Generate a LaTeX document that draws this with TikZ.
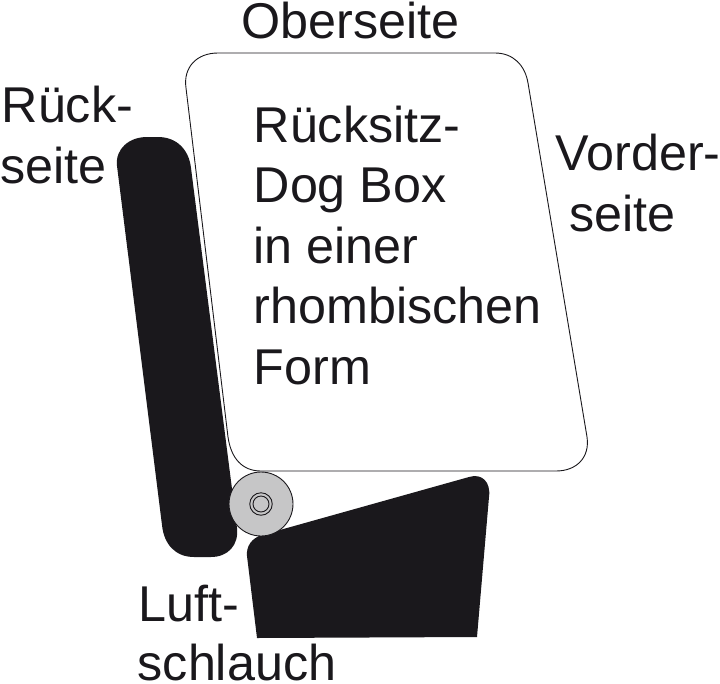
\documentclass[tikz,border=0pt]{standalone}
\usepackage{fontspec}
\setmainfont{Liberation Sans}
\definecolor{inkBlack}{HTML}{1A181C}
\definecolor{rollGray}{HTML}{C6C6C7}
\begin{document}
\begin{tikzpicture}
[x=1pt,y=-1pt,%
  partDecorate/.style={fill=inkBlack,draw=none},%
  boxDecorate/.style={draw=inkBlack,line width=0.9pt},%
  rollDecorate/.style={draw=inkBlack,line width=0.9pt},%
  labelDecorate/.style={anchor=base west,inner sep=0pt,text=inkBlack,font=\fontsize{50.3}{60}\selectfont}]
\useasboundingbox (0,0) rectangle (720,683);
%% backrest, seat
\path[partDecorate] (147,137) -- (158,137)
  .. controls (177,137) and (189,150) .. (191,168)
  -- (237,528) .. controls (239,545) and (228,557) .. (211,557)
  -- (194,557) .. controls (176,557) and (164,545) .. (162,525)
  -- (117,166) .. controls (115,149) and (129,137) .. (147,137) -- cycle;
\path[partDecorate] (262,535) -- (469,477)
  .. controls (482,473) and (491,482) .. (489,497)
  -- (477,637) -- (257,638) -- (247,556)
  .. controls (246,546) and (252,538) .. (262,535) -- cycle;
%% dog box
\draw[boxDecorate] (218,53) -- (495,53)
  .. controls (513,53) and (525,65) .. (528,83)
  -- (587,437) .. controls (590,457) and (577,471) .. (556,471)
  -- (261,471) .. controls (242,471) and (231,458) .. (228,437)
  -- (186,88) .. controls (183,67) and (197,53) .. (218,53) -- cycle;
%% air hose
\node (hose) at (261,504) [rollDecorate,shape=circle,fill=rollGray,minimum size=64pt,inner sep=0pt] {};
\node (hoseOuter) at (hose.center) [rollDecorate,shape=circle,minimum size=22.5pt,inner sep=0pt] {};
\node (hoseInner) at (hose.center) [rollDecorate,shape=circle,minimum size=16pt,inner sep=0pt] {};
%% labels
\foreach \nodename/\x/\y/\caption in {
  top/241/38/Oberseite, backA/1.5/122/Rück-, backB/0.5/183/seite,
  frontA/555.5/170/Vorder-, frontB/569.5/231/seite,
  boxA/253.5/142/Rücksitz-, boxB/253.5/202/Dog Box, boxC/253.5/263/in einer,
  boxD/253.5/323/rhombischen, boxE/253.5/384.5/Form,
  hoseA/138.5/621/Luft-, hoseB/137.5/680/schlauch}
{
  \node (\nodename) at (\x,\y) [labelDecorate] {\caption};
}
\end{tikzpicture}
\end{document}
